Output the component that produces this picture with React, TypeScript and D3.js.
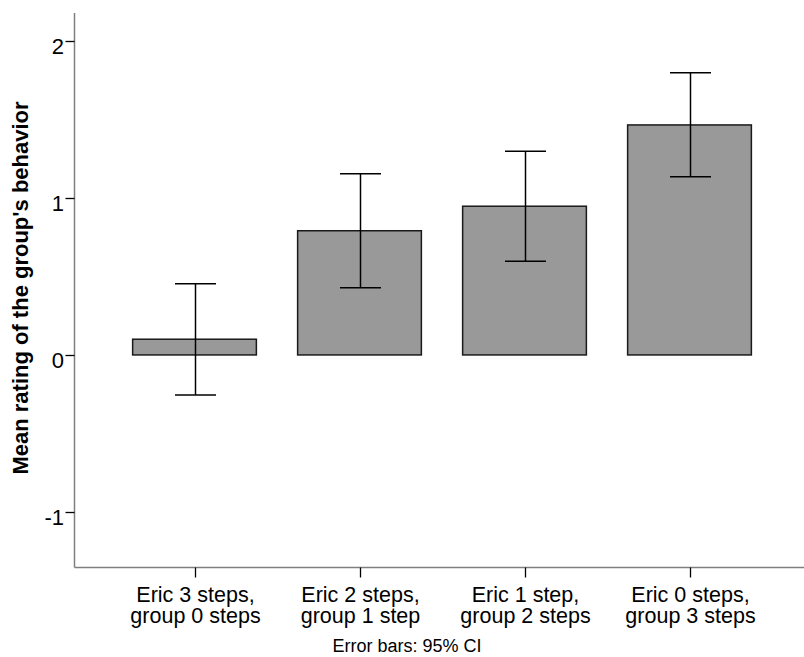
import React, { useEffect, useRef } from 'react'
import * as d3 from 'd3'

// group labels (two lines each)
const categories = ['c0', 'c1', 'c2', 'c3']
const labelLine1 = ['Eric 3 steps,', 'Eric 2 steps,', 'Eric 1 step,', 'Eric 0 steps,']
const labelLine2 = ['group 0 steps', 'group 1 step', 'group 2 steps', 'group 3 steps']
const means = [0.1, 0.79, 0.946, 1.463]
const ciLow = [-0.254, 0.428, 0.596, 1.134]
const ciHigh = [0.453, 1.153, 1.295, 1.795]
const yTicks = [-1, 0, 1, 2]

const width = 804
const height = 657

export default function App() {
  const ref = useRef<SVGSVGElement | null>(null)

  useEffect(() => {
    const svg = d3.select(ref.current)
    svg.selectAll('*').remove()

    const left = 74.5, right = 804, top = 13, bottom = 567.5

    const x = d3.scaleBand()
      .domain(categories)
      .range([112, 772])
      .paddingInner(0.25)
      .paddingOuter(0.125)

    const y = d3.scaleLinear()
      .domain([-1.352, 2.175])
      .range([bottom, top])

    const font = 'Liberation Sans, Arial, sans-serif'

    // bars
    svg.append('g')
      .selectAll('rect')
      .data(means)
      .enter()
      .append('rect')
      .attr('x', (d, i) => x(categories[i]))
      .attr('width', x.bandwidth())
      .attr('y', d => y(Math.max(0, d)))
      .attr('height', d => Math.abs(y(d) - y(0)))
      .attr('fill', '#999999')
      .attr('stroke', '#1a1a1a')
      .attr('stroke-width', 1.5)

    // error bars
    const cap = 20.5
    const eb = svg.append('g').attr('stroke', '#000').attr('stroke-width', 1.5)
    means.forEach((m, i) => {
      const cx = Math.round(x(categories[i]) + x.bandwidth() / 2) + 0.5
      eb.append('line').attr('x1', cx).attr('x2', cx).attr('y1', y(ciLow[i])).attr('y2', y(ciHigh[i]))
      eb.append('line').attr('x1', cx - cap).attr('x2', cx + cap).attr('y1', y(ciLow[i])).attr('y2', y(ciLow[i]))
      eb.append('line').attr('x1', cx - cap).attr('x2', cx + cap).attr('y1', y(ciHigh[i])).attr('y2', y(ciHigh[i]))
    })

    // axis lines
    svg.append('line')
      .attr('x1', left).attr('x2', left).attr('y1', top).attr('y2', bottom)
      .attr('stroke', '#7f7f7f').attr('stroke-width', 1.5)
    svg.append('line')
      .attr('x1', left).attr('x2', right).attr('y1', bottom).attr('y2', bottom)
      .attr('stroke', '#7f7f7f').attr('stroke-width', 1.5)

    // y ticks
    const yt = svg.append('g')
    yTicks.forEach(t => {
      const ty = Math.round(y(t)) + 0.5
      yt.append('line')
        .attr('x1', left - 9).attr('x2', left).attr('y1', ty).attr('y2', ty)
        .attr('stroke', '#000').attr('stroke-width', 1.3)
      yt.append('text')
        .attr('x', 64).attr('y', ty + 12)
        .attr('text-anchor', 'end')
        .attr('font-family', font).attr('font-size', 22)
        .attr('fill', '#000')
        .text(t)
    })

    // x ticks and labels
    const xt = svg.append('g')
    categories.forEach((c, i) => {
      const cx = Math.round(x(c) + x.bandwidth() / 2) + 0.5
      xt.append('line')
        .attr('x1', cx).attr('x2', cx).attr('y1', bottom).attr('y2', bottom + 10)
        .attr('stroke', '#000').attr('stroke-width', 1.3)
      const t = xt.append('text')
        .attr('text-anchor', 'middle')
        .attr('font-family', font).attr('font-size', 21.5)
        .attr('fill', '#000')
      t.append('tspan').attr('x', cx).attr('y', 602).text(labelLine1[i])
      t.append('tspan').attr('x', cx).attr('y', 623).text(labelLine2[i])
    })

    // y axis title
    svg.append('text')
      .attr('transform', 'translate(28,' + 288 + ') rotate(-90)')
      .attr('text-anchor', 'middle')
      .attr('font-family', font).attr('font-size', 22).attr('font-weight', 'bold')
      .attr('fill', '#000')
      .text("Mean rating of the group's behavior")

    // footnote
    svg.append('text')
      .attr('x', 407).attr('y', 652)
      .attr('text-anchor', 'middle')
      .attr('font-family', font).attr('font-size', 18)
      .attr('fill', '#000')
      .text('Error bars: 95% CI')
  }, [])

  return (
    <svg
      ref={ref}
      width={width}
      height={height}
      style={{ position: 'absolute', left: 0, top: 0, background: '#fff' }}
    />
  )
}
